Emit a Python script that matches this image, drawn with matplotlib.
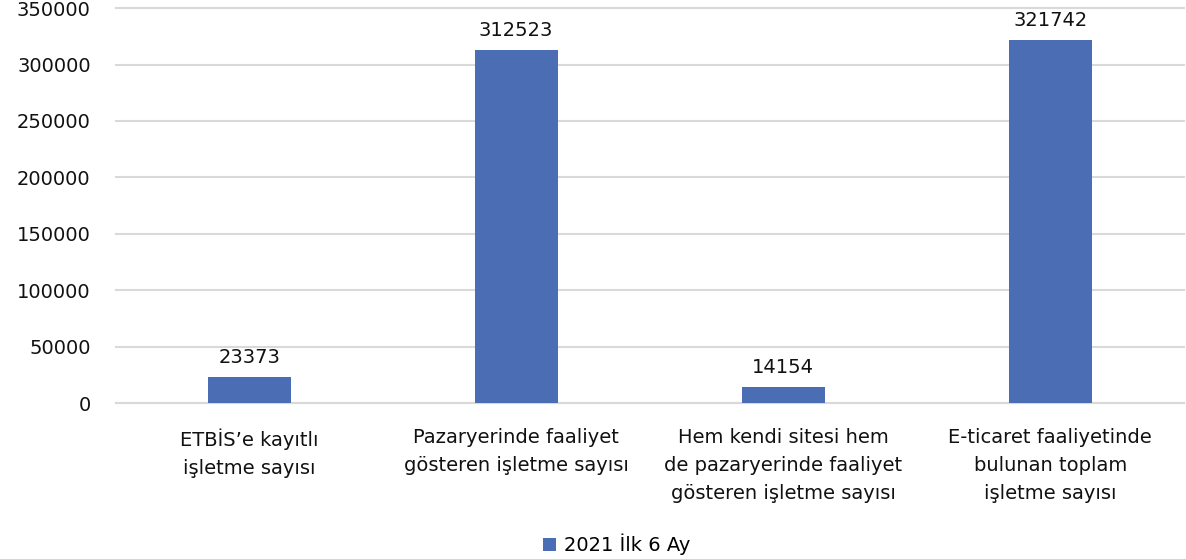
import matplotlib.pyplot as plt
import numpy as np

categories = ["ETBİS’e kayıtlı\nişletme sayısı",
              "Pazaryerinde faaliyet\ngösteren işletme sayısı",
              "Hem kendi sitesi hem\nde pazaryerinde faaliyet\ngösteren işletme sayısı",
              "E-ticaret faaliyetinde\nbulunan toplam\nişletme sayısı"]
values = [23373, 312523, 14154, 321742]
series_name = "2021 İlk 6 Ay"
yticks = [0, 50000, 100000, 150000, 200000, 250000, 300000, 350000]

plt.rcParams['font.family'] = ['DejaVu Sans']
bar_color = "#4A6DB3"
grid_color = "#D9D9D9"
fs = 14

fig = plt.figure(figsize=(11.86, 5.59), dpi=100)
ax = fig.add_axes([0.0975, 0.279, 0.9005, 0.7065])

x = np.arange(len(categories))
bars = ax.bar(x, values, width=0.31, color=bar_color, label=series_name, zorder=3)
for xi, v in zip(x, values):
    ax.text(xi, v + 9000, str(v), ha="center", va="bottom", fontsize=fs, color="#111111")

ax.set_xlim(-0.5, len(categories) - 0.5)
ax.set_ylim(0, 350000)
ax.set_yticks(yticks)
ax.set_yticklabels([str(t) for t in yticks])
ax.set_xticks(x)
ax.set_xticklabels(categories, fontsize=fs, linespacing=1.6, color="#111111")
ax.tick_params(axis="y", length=0, pad=18, labelsize=fs, labelcolor="#111111")
ax.tick_params(axis="x", length=0, pad=18)

ax.grid(axis="y", color=grid_color, linewidth=1.5, zorder=0)
for gl in ax.yaxis.get_gridlines():
    gl.set_clip_on(False)
for s in ["top", "right", "left"]:
    ax.spines[s].set_visible(False)
ax.spines["bottom"].set_color(grid_color)
ax.spines["bottom"].set_linewidth(1.5)

fig.legend(handles=[bars], labels=[series_name], loc="center", bbox_to_anchor=(0.52, 0.026),
           frameon=False, fontsize=fs, handlelength=0.7, handleheight=0.7, handletextpad=0.4)

fig.savefig("out.png", dpi=100)
